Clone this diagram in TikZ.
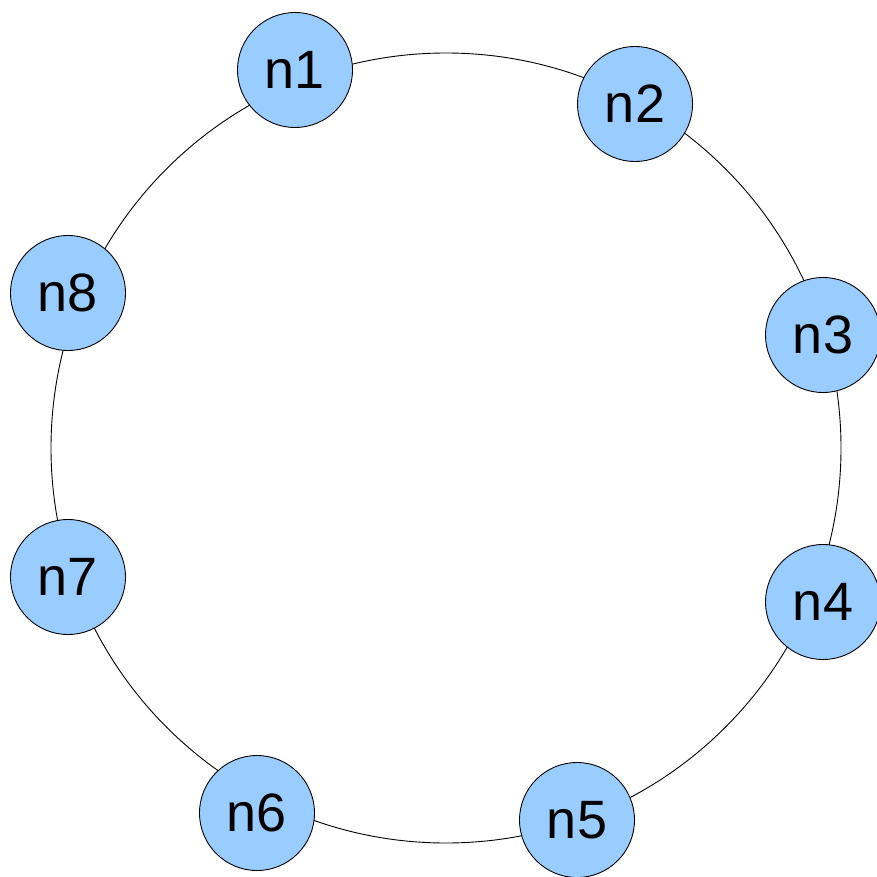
\documentclass[tikz,border=0pt]{standalone}
\usepackage{fontspec}
\setmainfont{Liberation Sans}
\usepackage{xcolor}
\definecolor{nodeblue}{RGB}{153,204,255}

\begin{document}
\begin{tikzpicture}[
  x=1pt, y=-1pt,
  member/.style={draw, circle, fill=nodeblue, minimum size=115pt, inner sep=0pt, line width=0.9pt, font=\fontsize{54}{60}\selectfont},
  ring/.style={line width=0.9pt}
]
  \useasboundingbox (0,0) rectangle (877,877);
  \coordinate (c) at (446,448);
  \draw[ring] (c) circle[radius=395pt];

  % members sit on the ring, drawn over it
  \foreach \name/\x/\y in {
    n1/295/70,
    n2/635/104,
    n3/823/335,
    n4/823/602,
    n5/577/820,
    n6/257/813,
    n7/68/577,
    n8/68/293
  }{
    \node[member] (\name) at (\x,\y) {\name};
  }
\end{tikzpicture}
\end{document}
